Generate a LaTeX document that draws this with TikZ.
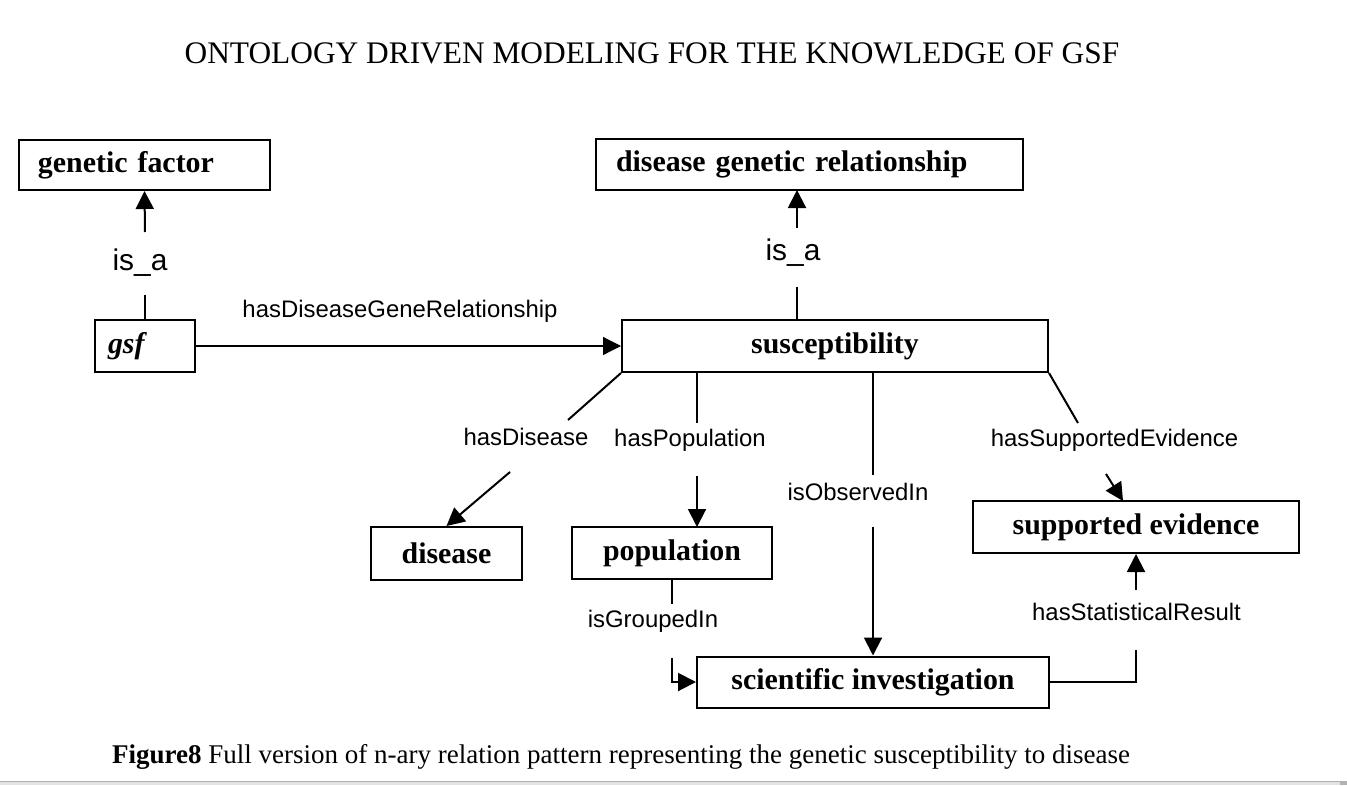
\documentclass[tikz,border=0pt]{standalone}
\usepackage{fontspec}
\setmainfont{Liberation Serif}
\setsansfont{Liberation Sans}
\usetikzlibrary{arrows.meta,calc}
\tikzset{
  box/.style={draw, line width=2bp, inner sep=0pt, font=\fontsize{30}{32}\selectfont\bfseries, anchor=center},
  lbl/.style={font=\sffamily\fontsize{24}{26}\selectfont, inner sep=0pt, anchor=center},
  isalbl/.style={font=\sffamily\fontsize{30}{32}\selectfont, inner sep=0pt, anchor=center},
  conn/.style={line width=2bp},
  arr/.style={line width=2bp, -{Triangle[length=18bp,width=18bp]}},
  thinarr/.style={line width=1.2bp, -{Triangle[length=18bp,width=18bp]}}
}
\begin{document}
\begin{tikzpicture}[x=1bp,y=-1bp]
\useasboundingbox (0,0) rectangle (1347,785);
\fill[white] (0,0) rectangle (1347,785);

% title
\node[font=\fontsize{31.5}{33}\selectfont, inner sep=0pt] (title) at (652,53) {ONTOLOGY DRIVEN MODELING FOR THE KNOWLEDGE OF GSF};

% boxes
\node[box, minimum height=50bp, text width=213bp, inner xsep=19bp, align=left] (gf) at (144.5,165) {genetic factor};
\node[box, minimum height=51bp, text width=387bp, inner xsep=20bp, align=left] (dgr) at (809.5,164.5) {disease genetic relationship};
\node[box, minimum height=52bp, text width=74bp, inner xsep=13bp, align=left] (gsf) at (145,346) {\itshape gsf};
\node[box, minimum height=52bp, minimum width=426bp] (susc) at (835,346) {susceptibility};
\node[box, minimum height=53bp, minimum width=151bp] (dis) at (446.5,553.5) {disease};
\node[box, minimum height=52bp, minimum width=200bp] (pop) at (672,553) {population};
\node[box, minimum height=52bp, minimum width=326bp] (se) at (1136,527) {supported evidence};
\node[box, minimum height=51bp, minimum width=352bp] (si) at (873,682) {scientific investigation};

% labels
\node[isalbl] (l1) at (140,263) {is\_a};
\node[isalbl] (l2) at (793,253) {is\_a};
\node[lbl] (l3) at (400,311) {hasDiseaseGeneRelationship};
\node[lbl] (l4) at (526,437) {hasDisease};
\node[lbl] (l5) at (690,440) {hasPopulation};
\node[lbl] (l6) at (858,492) {isObservedIn};
\node[lbl] (l7) at (1114.5,440) {hasSupportedEvidence};
\node[lbl] (l8) at (1136.5,612) {hasStatisticalResult};
\node[lbl] (l9) at (653,621) {isGroupedIn};

% break coordinates
\coordinate (a1) at (145,295);
\coordinate (a2) at (145,232);
\coordinate (b0) at (797,320);
\coordinate (b1) at (797,287);
\coordinate (b2) at (797,228);
\coordinate (b3) at (797,190);
\coordinate (c1) at (568,420);
\coordinate (c2) at (510,472);
\coordinate (d0) at (697,372);
\coordinate (d1) at (697,423);
\coordinate (d2) at (697,476);
\coordinate (d3) at (697,527);
\coordinate (e1) at (873,475);
\coordinate (e2) at (873,527);
\coordinate (f1) at (1078,423);
\coordinate (f2) at (1106,474);
\coordinate (f3) at (1123,501);
\coordinate (g1) at (1136,650);
\coordinate (g2) at (1136,590);
\coordinate (h1) at (672,604);
\coordinate (h2) at (672,658);

% connectors
\draw[conn] (gsf.north) -- (a1);
\draw[arr] (a2) -- (gf.south);
\draw[conn] (b0) -- (b1);
\draw[arr] (b2) -- (b3);
\draw[thinarr] (gsf.east) -- (susc.west);
\draw[conn] (susc.south west) -- (c1);
\draw[arr] (c2) -- (dis.north);
\draw[conn] (d0) -- (d1);
\draw[arr] (d2) -- (d3);
\draw[conn] (susc.south) ++(38,0) -- (e1);
\draw[arr] (e2) -- (si.north);
\draw[conn] (susc.south east) -- (f1);
\draw[arr] (f2) -- (f3);
\draw[conn] (si.east) -| (g1);
\draw[arr] (g2) -- (se.south);
\draw[conn] (pop.south) -- (h1);
\draw[arr] (h2) |- (si.west);

% caption
\node[anchor=base west, inner sep=0pt, font=\fontsize{27.1}{29}\selectfont] (cap) at (112,763) {\textbf{Figure8} Full version of n-ary relation pattern representing the genetic susceptibility to disease};

% bottom bar
\fill[gray!22] (0,781) rectangle (1347,785);
\draw[gray!60, line width=0.8bp] (0,781) -- (1347,781);
\fill[gray!60] (1340,781) rectangle (1347,785);
\end{tikzpicture}
\end{document}
